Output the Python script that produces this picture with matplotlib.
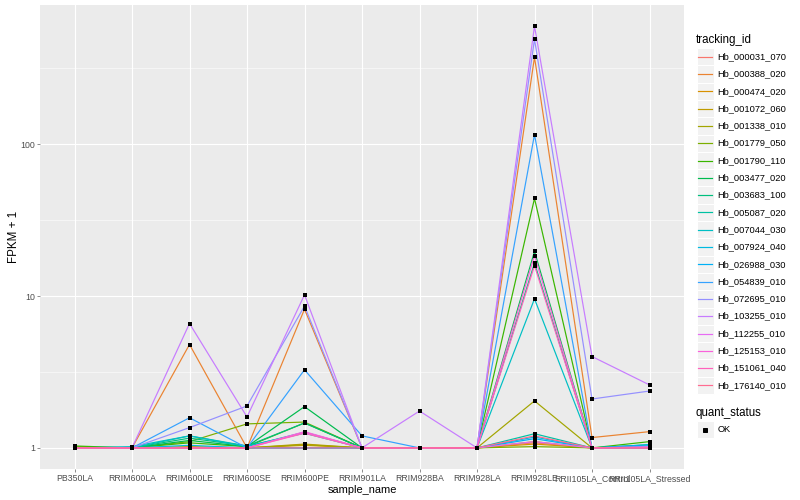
import matplotlib
matplotlib.use('Agg')
import matplotlib.pyplot as plt
from matplotlib.patches import Rectangle
from matplotlib.ticker import FixedLocator, NullFormatter
import numpy as np

# sample order on the x axis
samples = ['PB350LA', 'RRIM600LA', 'RRIM600LE', 'RRIM600SE', 'RRIM600PE', 'RRIM901LA',
           'RRIM928BA', 'RRIM928LA', 'RRIM928LE', 'RRII105LA_Control', 'RRII105LA_Stressed']

tracking_ids = ['Hb_000031_070', 'Hb_000388_020', 'Hb_000474_020', 'Hb_001072_060',
                'Hb_001338_010', 'Hb_001779_050', 'Hb_001790_110', 'Hb_003477_020',
                'Hb_003683_100', 'Hb_005087_020', 'Hb_007044_030', 'Hb_007924_040',
                'Hb_026988_030', 'Hb_054839_010', 'Hb_072695_010', 'Hb_103255_010',
                'Hb_112255_010', 'Hb_125153_010', 'Hb_151061_040', 'Hb_176140_010']

# ggplot hue palette, 20 levels
colors = ['#F8766D', '#EA8331', '#D89000', '#C09B00', '#A3A500', '#7CAE00', '#39B600',
          '#00BB4E', '#00BF7D', '#00C1A3', '#00BFC4', '#00BAE0', '#00B0F6', '#35A2FF',
          '#9590FF', '#C77CFF', '#E76BF3', '#FA62DB', '#FF62BC', '#FF6C91']

# FPKM + 1, one list per tracking id
hb_000031_070 = [1.0, 1.0, 1.0, 1.0, 1.0, 1.0, 1.0, 1.0, 1.08, 1.0, 1.0]
hb_000388_020 = [1.0, 1.0, 4.8, 1.0, 8.2, 1.0, 1.0, 1.0, 375, 1.17, 1.28]
hb_000474_020 = [1.0, 1.0, 1.02, 1.0, 1.04, 1.0, 1.0, 1.0, 1.06, 1.0, 1.02]
hb_001072_060 = [1.0, 1.0, 1.0, 1.0, 1.06, 1.0, 1.0, 1.0, 1.1, 1.0, 1.0]
hb_001338_010 = [1.0, 1.0, 1.0, 1.0, 1.05, 1.0, 1.0, 1.0, 2.04, 1.0, 1.0]
hb_001779_050 = [1.02, 1.0, 1.1, 1.44, 1.48, 1.0, 1.0, 1.0, 1.02, 1.0, 1.0]
hb_001790_110 = [1.03, 1.0, 1.08, 1.02, 1.46, 1.0, 1.0, 1.0, 44, 1.0, 1.1]
hb_003477_020 = [1.0, 1.0, 1.12, 1.02, 1.87, 1.0, 1.0, 1.0, 19.7, 1.0, 1.05]
hb_003683_100 = [1.0, 1.0, 1.16, 1.03, 1.46, 1.0, 1.0, 1.0, 16.5, 1.0, 1.02]
hb_005087_020 = [1.0, 1.0, 1.2, 1.03, 1.25, 1.0, 1.0, 1.0, 1.24, 1.0, 1.0]
hb_007044_030 = [1.0, 1.02, 1.2, 1.02, 1.27, 1.0, 1.0, 1.0, 9.6, 1.0, 1.03]
hb_007924_040 = [1.0, 1.0, 1.04, 1.0, 1.0, 1.0, 1.0, 1.0, 1.18, 1.0, 1.0]
hb_026988_030 = [1.0, 1.0, 1.0, 1.0, 1.0, 1.0, 1.0, 1.0, 1.15, 1.0, 1.05]
hb_054839_010 = [1.0, 1.0, 1.58, 1.0, 3.27, 1.2, 1.0, 1.0, 116, 1.0, 1.0]
hb_072695_010 = [1.0, 1.0, 1.36, 1.89, 8.6, 1.0, 1.0, 1.0, 493, 2.1, 2.37]
hb_103255_010 = [1.0, 1.0, 6.6, 1.6, 10.2, 1.0, 1.75, 1.0, 601, 4.0, 2.6]
hb_112255_010 = [1.0, 1.0, 1.0, 1.0, 1.26, 1.0, 1.0, 1.0, 1.1, 1.0, 1.02]
hb_125153_010 = [1.0, 1.0, 1.0, 1.0, 1.28, 1.0, 1.0, 1.0, 18.5, 1.0, 1.0]
hb_151061_040 = [1.0, 1.0, 1.0, 1.0, 1.25, 1.0, 1.0, 1.0, 15.9, 1.0, 1.0]
hb_176140_010 = [1.0, 1.0, 1.0, 1.0, 1.0, 1.0, 1.0, 1.0, 1.2, 1.0, 1.0]

series = [hb_000031_070, hb_000388_020, hb_000474_020, hb_001072_060, hb_001338_010,
          hb_001779_050, hb_001790_110, hb_003477_020, hb_003683_100, hb_005087_020,
          hb_007044_030, hb_007924_040, hb_026988_030, hb_054839_010, hb_072695_010,
          hb_103255_010, hb_112255_010, hb_125153_010, hb_151061_040, hb_176140_010]

plt.rcParams['font.family'] = ['Liberation Sans', 'DejaVu Sans']

W, H = 800, 500
fig = plt.figure(figsize=(W / 72, H / 72), dpi=72)
ax = fig.add_axes([40 / W, 31 / H, 644 / W, 464 / H])
ax.set_facecolor('#EBEBEB')

x = np.arange(len(samples))
for vals, col in zip(series, colors):
    ax.plot(x, vals, color=col, lw=1.2, zorder=2)
for vals in series:
    ax.scatter(x, vals, marker='s', s=11, color='black', linewidths=0, zorder=3)

# log scale with ggplot style 5% expansion
ax.set_yscale('log')
allv = np.concatenate([np.asarray(v) for v in series])
lo, hi = np.log10(allv.min()), np.log10(allv.max())
pad = 0.05 * (hi - lo)
ax.set_ylim(10 ** (lo - pad), 10 ** (hi + pad))
ax.set_xlim(-0.6, len(samples) - 1 + 0.6)

ax.set_yticks([1, 10, 100])
ax.set_yticklabels(['1', '10', '100'])
ax.yaxis.set_minor_locator(FixedLocator([10 ** 0.5, 10 ** 1.5, 10 ** 2.5]))
ax.yaxis.set_minor_formatter(NullFormatter())
ax.set_xticks(x)
ax.set_xticklabels(samples)

ax.set_axisbelow(True)
ax.grid(which='major', color='white', lw=1.1)
ax.grid(which='minor', axis='y', color='white', lw=0.55)
for s in ax.spines.values():
    s.set_visible(False)
ax.tick_params(which='major', length=2.75, width=0.55, color='#333333',
               labelcolor='#4D4D4D', labelsize=8.8, pad=2.2)
ax.tick_params(which='minor', length=0)
ax.set_xlabel('sample_name', fontsize=11, labelpad=2.5)
ax.set_ylabel('FPKM + 1', fontsize=11.5, labelpad=0)

# legends drawn in a pixel-coordinate overlay axes (y down)
lg = fig.add_axes([0, 0, 1, 1])
lg.set_xlim(0, W)
lg.set_ylim(H, 0)
lg.axis('off')

step = 17.3
lg.text(696, 40.5, 'tracking_id', fontsize=11.5, va='center', ha='left')
for i, (name, col) in enumerate(zip(tracking_ids, colors)):
    yc = 56.7 + i * step
    lg.add_patch(Rectangle((696.5, yc - step / 2), step, step, facecolor='#F2F2F2',
                           edgecolor='white', lw=1, zorder=1))
    lg.plot([698, 712], [yc, yc], color=col, lw=1.2, zorder=2)
    lg.text(717.5, yc, name, fontsize=9.3, va='center', ha='left')

lg.text(696, 413, 'quant_status', fontsize=11.5, va='center', ha='left')
lg.add_patch(Rectangle((696.5, 429.5 - step / 2), step, step, facecolor='#F2F2F2',
                       edgecolor='white', lw=1, zorder=1))
lg.plot([705], [429.5], marker='s', markersize=3.5, color='black', linestyle='none', zorder=2)
lg.text(717.5, 429.5, 'OK', fontsize=9.3, va='center', ha='left')

fig.savefig('out.png', dpi=72)
